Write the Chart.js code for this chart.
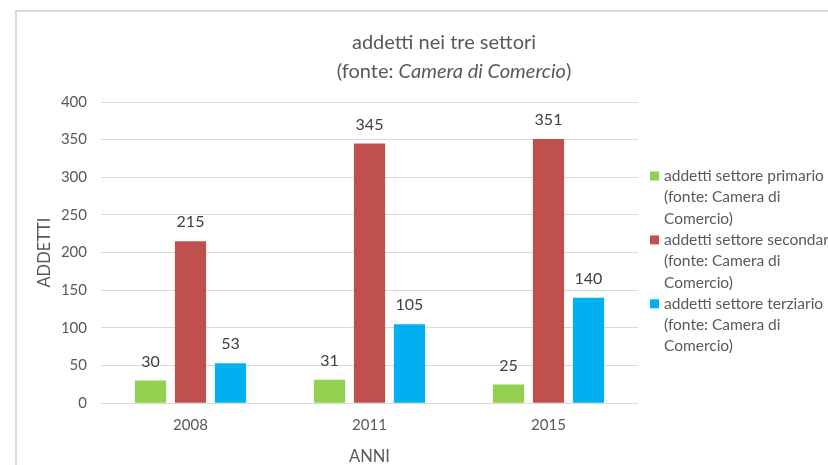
<!DOCTYPE html>
<html>
<head>
<meta charset="utf-8">
<script src="https://cdn.jsdelivr.net/npm/chart.js@4/dist/chart.umd.min.js"></script>
<style>
  html, body { margin: 0; padding: 0; background: #fff; overflow: hidden; width: 828px; height: 465px; }
  #box { position: absolute; left: 15px; top: 10px; width: 870px; height: 470px;
         border-left: 2px solid #d9d9d9; border-top: 2px solid #d9d9d9; }
</style>
</head>
<body>
<div id="box"><canvas id="chart" width="870" height="470"></canvas></div>
<script>
// chart data
const years = ['2008', '2011', '2015'];
const primario = [30, 31, 25];
const secondario = [215, 345, 351];
const terziario = [53, 105, 140];
const seriesNames = [
  ['addetti settore primario', '(fonte: Camera di', 'Comercio)'],
  ['addetti settore secondario', '(fonte: Camera di', 'Comercio)'],
  ['addetti settore terziario', '(fonte: Camera di', 'Comercio)']
];
const seriesColors = ['#92d050', '#c0504d', '#00b0f0'];
const titleLine1 = 'addetti nei tre settori';
const titleLine2 = [['(fonte: ', 'normal'], ['Camera di Comercio', 'italic'], [')', 'normal']];

const FONT = 'Lato';
const TEXT = '#595959';

// title with an italic part on the second line
const titlePlugin = {
  id: 'twoLineTitle',
  afterDraw(chart) {
    const ctx = chart.ctx;
    const cx = chart.width / 2 + 2;
    ctx.save();
    ctx.fillStyle = TEXT;
    ctx.textBaseline = 'middle';
    ctx.textAlign = 'center';
    ctx.font = '20px ' + FONT;
    ctx.fillText(titleLine1, cx - 10, 31);

    let total = 0;
    titleLine2.forEach(p => {
      ctx.font = p[1] + ' 20px ' + FONT;
      total += ctx.measureText(p[0]).width;
    });
    let x = cx - total / 2;
    ctx.textAlign = 'left';
    titleLine2.forEach(p => {
      ctx.font = p[1] + ' 20px ' + FONT;
      ctx.fillText(p[0], x, 60);
      x += ctx.measureText(p[0]).width;
    });
    ctx.restore();
  }
};

// value labels above the bars
const valuePlugin = {
  id: 'valueLabels',
  afterDatasetsDraw(chart) {
    const ctx = chart.ctx;
    ctx.save();
    ctx.fillStyle = '#404040';
    ctx.font = '16px ' + FONT;
    ctx.textAlign = 'center';
    ctx.textBaseline = 'middle';
    chart.data.datasets.forEach((ds, i) => {
      chart.getDatasetMeta(i).data.forEach((bar, j) => {
        ctx.fillText(ds.data[j], bar.x, bar.y - 19);
      });
    });
    ctx.restore();
  }
};

// legend on the right, names wrapped on three lines like the original
const legendPlugin = {
  id: 'wrappedLegend',
  afterDraw(chart) {
    const ctx = chart.ctx;
    const area = chart.chartArea;
    const lineH = 21.3;
    const bx = area.right + 12;
    let y = area.top + 74;
    ctx.save();
    ctx.font = '15.5px ' + FONT;
    ctx.textBaseline = 'middle';
    ctx.textAlign = 'left';
    chart.data.datasets.forEach(ds => {
      ctx.fillStyle = ds.backgroundColor;
      ctx.fillRect(bx, y - 4.5, 9, 9);
      ctx.fillStyle = TEXT;
      ds.label.forEach(line => {
        ctx.fillText(line, bx + 14, y);
        y += lineH;
      });
    });
    ctx.restore();
  }
};

new Chart(document.getElementById('chart'), {
  type: 'bar',
  data: {
    labels: years,
    datasets: [primario, secondario, terziario].map((vals, i) => ({
      label: seriesNames[i],
      data: vals,
      backgroundColor: seriesColors[i],
      categoryPercentage: 0.67,
      barPercentage: 0.78
    }))
  },
  options: {
    responsive: false,
    animation: false,
    layout: { padding: { top: 90, left: 14, right: 249, bottom: 11 } },
    plugins: {
      title: { display: false },
      tooltip: { enabled: false },
      legend: { display: false }
    },
    scales: {
      x: {
        grid: { display: false, drawTicks: false },
        border: { display: false },
        ticks: { color: TEXT, font: { family: FONT, size: 15 }, padding: 13 },
        title: { display: true, text: 'ANNI', color: TEXT, font: { family: FONT, size: 16.5 }, padding: { top: 0, bottom: 4 } }
      },
      y: {
        min: 0,
        max: 400,
        ticks: { stepSize: 50, color: TEXT, font: { family: FONT, size: 15 }, padding: 14 },
        grid: { color: '#d9d9d9', drawTicks: false },
        border: { display: false },
        title: { display: true, text: 'ADDETTI', color: TEXT, font: { family: FONT, size: 16.5 }, padding: { top: 4, bottom: 4 } },
        afterFit(scale) { scale.width = 70; }
      }
    }
  },
  plugins: [titlePlugin, valuePlugin, legendPlugin]
});
</script>
</body>
</html>
